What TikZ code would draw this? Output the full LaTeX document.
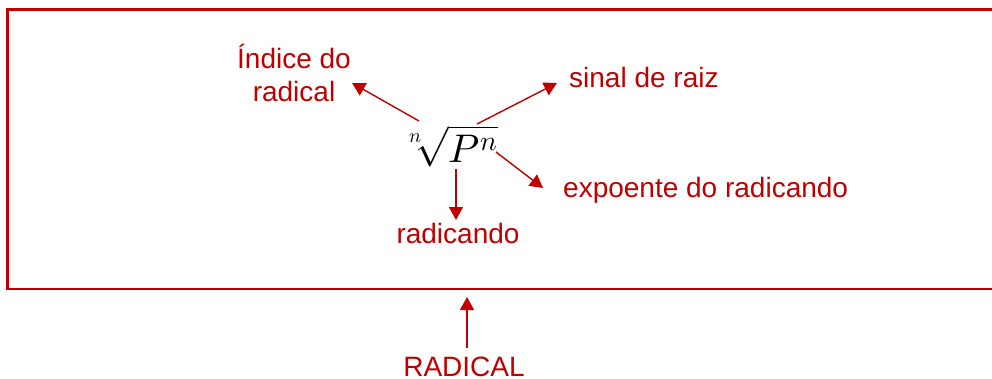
\documentclass[tikz,border=0pt]{standalone}
\usepackage{unicode-math}
\setmainfont{Liberation Sans}
\setmathfont{Latin Modern Math}
\usetikzlibrary{arrows.meta}
\definecolor{dred}{RGB}{192,0,0}
\begin{document}
\begin{tikzpicture}[x=1pt,y=-1pt,
  lbl/.style={text=dred,inner sep=0pt,font=\fontsize{28}{33}\selectfont},
  arr/.style={draw=dred,line width=1.4pt,-{Triangle[length=13pt,width=14pt]}}]
\useasboundingbox (0,0) rectangle (992,378);
\draw[dred,line width=2.5pt] (995,9.5) -- (7.5,9.5) -- (7.5,289) -- (995,289);
\node[inner sep=0pt] (f) at (452,146) {\fontsize{40}{48}\selectfont$\sqrt[n]{P^n}$};
\node[lbl,anchor=base,align=center] (ind) at (294,101) {Índice do\\radical};
\node[lbl,anchor=base west] (sin) at (569,87) {sinal de raiz};
\node[lbl,anchor=base west] (exp) at (563,197) {expoente do radicando};
\node[lbl,anchor=base] (rad) at (458,243) {radicando};
\node[lbl,anchor=base] (big) at (464,376) {RADICAL};
\coordinate (a1) at (419,121);
\coordinate (t1) at (352,83);
\coordinate (a2) at (477,124);
\coordinate (t2) at (557,83);
\coordinate (a3) at (496,152);
\coordinate (t3) at (543,188);
\coordinate (a4) at (456,169);
\coordinate (t4) at (456,220);
\coordinate (a5) at (467,348);
\coordinate (t5) at (467,297);
\draw[arr] (a1) -- (t1);
\draw[arr] (a2) -- (t2);
\draw[arr] (a3) -- (t3);
\draw[arr] (a4) -- (t4);
\draw[arr] (a5) -- (t5);
\end{tikzpicture}
\end{document}
